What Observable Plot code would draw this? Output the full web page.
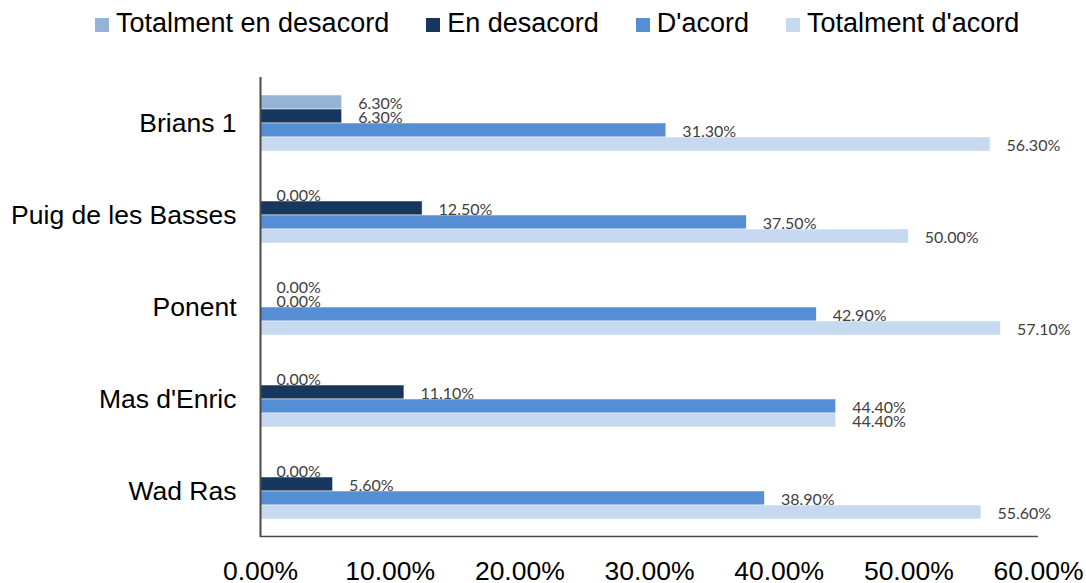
<!DOCTYPE html>
<html>
<head>
<meta charset="utf-8">
<script src="https://cdn.jsdelivr.net/npm/d3@7"></script>
<script src="https://cdn.jsdelivr.net/npm/@observablehq/plot@0.6"></script>
<style>
  html, body { margin: 0; padding: 0; background: #fff; }
  #wrap { position: relative; width: 1086px; height: 583px; overflow: hidden; }
  #legend { position: absolute; top: 10px; left: 95px; display: flex; gap: 37px;
            font-family: "Liberation Sans", Arial, sans-serif; font-size: 27px; line-height: 26px; color: #000; }
  .item { display: flex; align-items: center; white-space: nowrap; }
  .sw { width: 14px; height: 14px; margin-right: 7px; position: relative; top: 1.5px; }
  #chart { position: absolute; top: 0; left: 0; }
</style>
</head>
<body>
<div id="wrap">
  <div id="chart"></div>
  <div id="legend"></div>
</div>
<script>
const sites = ["Brians 1", "Puig de les Basses", "Ponent", "Mas d'Enric", "Wad Ras"];
const series = ["Totalment en desacord", "En desacord", "D'acord", "Totalment d'acord"];
const colors = ["#95B3D7", "#17375E", "#558ED5", "#C6D9F1"];
const totalmentEnDesacord = [6.3, 0.0, 0.0, 0.0, 0.0];
const enDesacord = [6.3, 12.5, 0.0, 11.1, 5.6];
const dAcord = [31.3, 37.5, 42.9, 44.4, 38.9];
const totalmentDAcord = [56.3, 50.0, 57.1, 44.4, 55.6];
const xTicks = [0, 10, 20, 30, 40, 50, 60];

const seriesValues = [totalmentEnDesacord, enDesacord, dAcord, totalmentDAcord];
const rows = [];
sites.forEach((site, i) => {
  series.forEach((s, j) => rows.push({site, series: s, value: seriesValues[j][i]}));
});

const fmt = v => v.toFixed(2) + "%";
const lastSite = sites[sites.length - 1];
const lastSeries = series[series.length - 1];

const chart = Plot.plot({
  width: 1086,
  height: 583,
  marginTop: 75,
  marginBottom: 45,
  marginLeft: 260,
  marginRight: 48,
  style: {fontFamily: "'Liberation Sans', Arial, sans-serif", fontSize: "26.5px", color: "#000", background: "transparent"},
  facet: {data: rows, y: "site"},
  fy: {domain: sites, padding: 0, axis: "left", label: null, tickSize: 0, tickPadding: 24},
  y: {domain: series, paddingInner: 0, paddingOuter: 1.1, axis: null},
  x: {domain: [0, 60], ticks: xTicks, tickFormat: fmt, tickSize: 0, tickPadding: 24, label: null},
  color: {domain: series, range: colors},
  marks: [
    Plot.barX(rows, {x: "value", y: "series", fill: "series", stroke: "#fff", strokeWidth: 0.5}),
    Plot.text(rows, {x: "value", y: "series", text: d => fmt(d.value), textAnchor: "start", dx: 16, dy: 1,
                     fontSize: 16, fontFamily: "Lato, 'Open Sans', sans-serif", fill: "#404040"}),
    Plot.ruleX([0], {stroke: "#4a4a4a", strokeWidth: 2}),
    Plot.ruleY(rows, {filter: d => d.site === lastSite && d.series === lastSeries,
                      y: "series", x1: 0, x2: 60, dy: 24, stroke: "#4a4a4a", strokeWidth: 1.5})
  ]
});
document.getElementById("chart").appendChild(chart);

const legend = document.getElementById("legend");
series.forEach((s, i) => {
  const item = document.createElement("div");
  item.className = "item";
  const sw = document.createElement("span");
  sw.className = "sw";
  sw.style.background = colors[i];
  const t = document.createElement("span");
  t.textContent = s;
  item.appendChild(sw);
  item.appendChild(t);
  legend.appendChild(item);
});
</script>
</body>
</html>
